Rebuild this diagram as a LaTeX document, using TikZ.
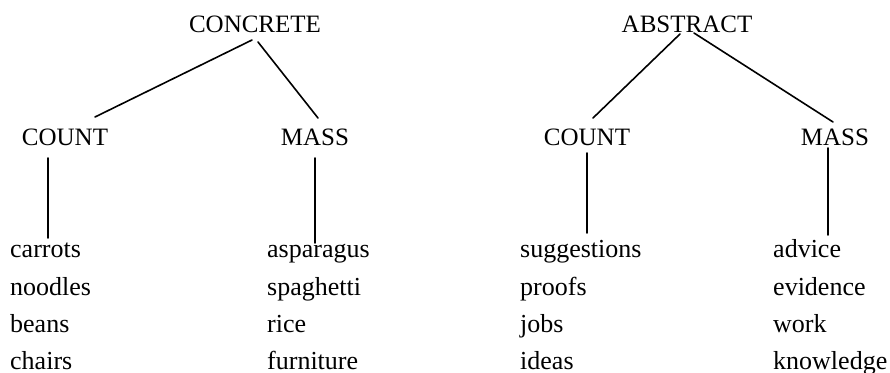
\documentclass[tikz,border=0pt]{standalone}
\usepackage{fontspec}
\setmainfont{Liberation Serif}
\usetikzlibrary{calc}
\begin{document}
\begin{tikzpicture}[x=1pt,y=-1pt,
  headlabel/.style={inner sep=0pt,anchor=base,font=\fontsize{25}{30}\selectfont},
  wordlabel/.style={inner sep=0pt,anchor=base west,font=\fontsize{26}{30}\selectfont},
  link/.style={line width=1.6pt,line cap=round}]
\useasboundingbox (0,0) rectangle (890,372);
% heads
\node[headlabel] (concrete) at (255,32) {CONCRETE};
\node[headlabel] (abstract) at (687,32) {ABSTRACT};
\node[headlabel] (count1) at (65,145) {COUNT};
\node[headlabel] (mass1) at (315,145) {MASS};
\node[headlabel] (count2) at (587,145) {COUNT};
\node[headlabel] (mass2) at (835,145) {MASS};
% lists
\node[wordlabel] (carrots) at (10,257) {carrots};
\node[wordlabel] (noodles) at (10,295) {noodles};
\node[wordlabel] (beans) at (10,332) {beans};
\node[wordlabel] (chairs) at (10,369) {chairs};
\node[wordlabel] (asparagus) at (267,257) {asparagus};
\node[wordlabel] (spaghetti) at (267,295) {spaghetti};
\node[wordlabel] (rice) at (267,332) {rice};
\node[wordlabel] (furniture) at (267,369) {furniture};
\node[wordlabel] (suggestions) at (520,257) {suggestions};
\node[wordlabel] (proofs) at (520,295) {proofs};
\node[wordlabel] (jobs) at (520,332) {jobs};
\node[wordlabel] (ideas) at (520,369) {ideas};
\node[wordlabel] (advice) at (773,257) {advice};
\node[wordlabel] (evidence) at (773,295) {evidence};
\node[wordlabel] (work) at (773,332) {work};
\node[wordlabel] (knowledge) at (773,369) {knowledge};
% connectors
\draw[link] ($(concrete.base)+(-3,8)$) -- ($(count1.base)+(30,-28)$);
\draw[link] ($(concrete.base)+(3,10)$) -- ($(mass1.base)+(3,-27)$);
\draw[link] ($(abstract.base)+(-7,2)$) -- ($(count2.base)+(6,-27)$);
\draw[link] ($(abstract.base)+(7,1)$) -- ($(mass2.base)+(-2,-23)$);
\draw[link] ($(count1.base)+(-17,13)$) -- ($(carrots.base west)+(38,-19)$);
\draw[link] ($(mass1.base)+(0,13)$) -- ($(asparagus.base west)+(48,-14)$);
\draw[link] ($(count2.base)+(0,8)$) -- ($(suggestions.base west)+(67,-24)$);
\draw[link] ($(mass2.base)+(-7,3)$) -- ($(advice.base west)+(55,-22)$);
\end{tikzpicture}
\end{document}
